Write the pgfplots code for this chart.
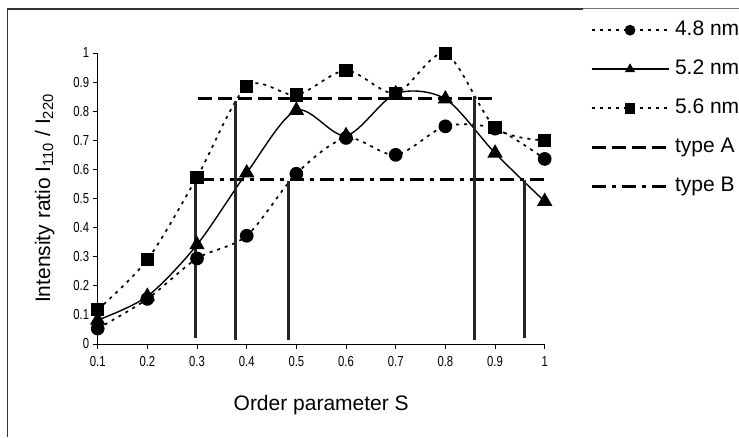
\documentclass[border=0pt]{standalone}
\usepackage{fontspec}
\setmainfont{Liberation Sans}
\usepackage{pgfplots}
\pgfplotsset{compat=1.18}
\begin{document}
\begin{tikzpicture}
\path[use as bounding box] (0,0) rectangle (739pt,437pt);
\draw[line width=1.3pt, black!80] (7.5pt,0pt) -- (7.5pt,428pt) -- (583pt,428pt);
\draw[line width=1pt, black!55] (583pt,428pt) -- (739pt,428pt);
\begin{axis}[
  at={(97.7pt,93pt)}, anchor=south west,
  scale only axis, width=447pt, height=291pt,
  xmin=0.1, xmax=1, ymin=0, ymax=1,
  clip=false,
  axis x line=bottom, axis y line=left,
  axis line style={-, line width=0.9pt},
  tick align=outside, major tick length=5pt,
  tick style={line width=0.9pt, black},
  xtick={0.1,0.2,0.3,0.4,0.5,0.6,0.7,0.8,0.9,1},
  ytick={0,0.1,0.2,0.3,0.4,0.5,0.6,0.7,0.8,0.9,1},
  /pgf/number format/assume math mode=true,
  xticklabel={\scalebox{0.78}[1]{\pgfmathprintnumber{\tick}}},
  yticklabel={\scalebox{0.78}[1]{\pgfmathprintnumber{\tick}}},
  ticklabel style={font=\fontsize{14.5}{16}\selectfont},
  xticklabel style={yshift=-4pt},
  xlabel={Order parameter S},
  ylabel={Intensity ratio I\textsubscript{110} / I\textsubscript{220}},
  label style={font=\fontsize{21}{24}\selectfont},
  xlabel style={at={(axis description cs:0.5,-0.2096)}, anchor=center},
  ylabel style={at={(axis description cs:-0.1186,0.5)}, anchor=center},
  legend cell align=left,
  legend style={at={(axis description cs:1.101,1.1117)}, anchor=north west,
    draw=none, fill=none, inner sep=0pt, row sep=20pt, column sep=5pt,
    font=\fontsize{21}{24}\selectfont,
    nodes={inner sep=0pt, text height=15pt, text depth=4pt}},
  legend image code/.code={\draw[mark repeat=2,mark phase=2,#1] plot coordinates {(0pt,0pt) (38.5pt,0pt) (77pt,0pt)};},
  legend image post style={mark size=4.5pt},
]
\addplot[black, line width=1.7pt, dash pattern=on 3pt off 5pt, smooth, mark=*, mark size=6pt, mark options={solid, fill=black}]
  coordinates {(0.1,0.053) (0.2,0.155) (0.3,0.294) (0.4,0.372) (0.5,0.585) (0.6,0.708) (0.7,0.65) (0.8,0.748) (0.9,0.74) (1.0,0.636)};
\addlegendentry{4.8 nm}
\addplot[black, line width=1.4pt, smooth, mark=triangle*, mark size=7.5pt, mark options={solid, fill=black}]
  coordinates {(0.1,0.082) (0.2,0.164) (0.3,0.341) (0.4,0.588) (0.5,0.803) (0.6,0.716) (0.7,0.86) (0.8,0.842) (0.9,0.656) (1.0,0.49)};
\addlegendentry{5.2 nm}
\addplot[black, line width=1.7pt, dash pattern=on 3pt off 5pt, smooth, mark=square*, mark size=5.8pt, mark options={solid, fill=black}]
  coordinates {(0.1,0.118) (0.2,0.29) (0.3,0.573) (0.4,0.885) (0.5,0.856) (0.6,0.94) (0.7,0.862) (0.8,0.998) (0.9,0.745) (1.0,0.70)};
\addlegendentry{5.6 nm}
\addplot[black, line width=3pt, dash pattern=on 14pt off 6pt]
  coordinates {(0.3025,0.842) (0.901,0.842)};
\addlegendentry{type A}
\addplot[black, line width=3pt, dash pattern=on 14pt off 6pt on 4pt off 6pt]
  coordinates {(0.305,0.5636) (1.0,0.5636)};
\addlegendentry{type B}
% vertical drop lines
\addplot[forget plot, black!85, line width=3pt] coordinates {(0.296,0.02) (0.296,0.576)};
\addplot[forget plot, black!85, line width=3pt] coordinates {(0.378,0.015) (0.378,0.834)};
\addplot[forget plot, black!85, line width=3pt] coordinates {(0.4845,0.015) (0.4845,0.559)};
\addplot[forget plot, black!85, line width=3pt] coordinates {(0.858,0.015) (0.858,0.851)};
\addplot[forget plot, black!85, line width=3pt] coordinates {(0.959,0.02) (0.959,0.565)};
\end{axis}
\end{tikzpicture}
\end{document}
